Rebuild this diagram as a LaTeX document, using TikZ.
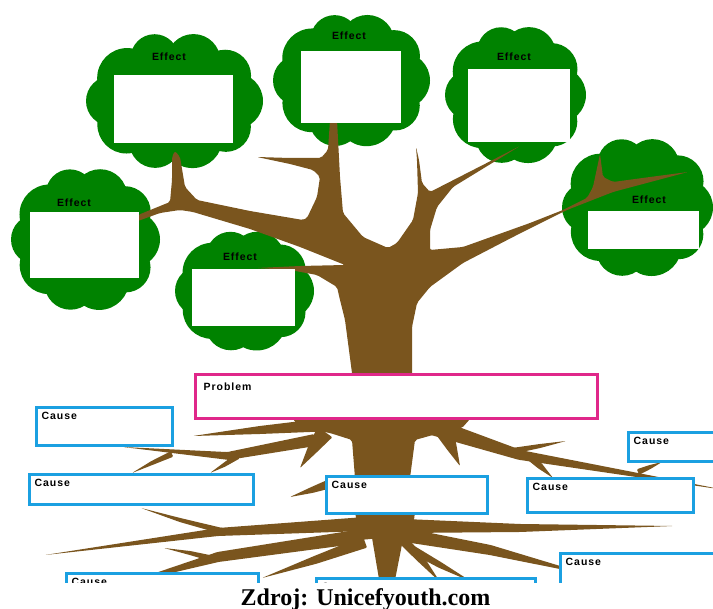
\documentclass[tikz,border=0pt]{standalone}
\usepackage{fontspec}
\setmainfont{Liberation Serif}
\newfontfamily\boxfont[LetterSpace=9]{Liberation Sans}
\usepackage{tikz}
\usetikzlibrary{positioning,calc}

\definecolor{leafgreen}{RGB}{0,130,0}
\definecolor{bark}{RGB}{122,85,30}
\definecolor{problempink}{RGB}{224,40,138}
\definecolor{causeblue}{RGB}{27,160,225}

\begin{document}
\begin{tikzpicture}[x=1pt, y=-1pt,
  leaf/.style={fill=leafgreen},
  wood/.style={fill=bark},
  effectbox/.style={fill=white, inner sep=0pt, outer sep=0pt},
  causebox/.style={draw=causeblue, line width=2.5pt, fill=white, inner sep=0pt, outer sep=0pt},
  problembox/.style={draw=problempink, line width=2.5pt, fill=white, inner sep=0pt, outer sep=0pt},
  boxlabel/.style={font=\boxfont\bfseries\fontsize{10.5}{12}\selectfont, inner sep=0pt}
]

\useasboundingbox (0,0) rectangle (713,609);
\clip (0,0) rectangle (713,609);

% Leaf clouds
\foreach \cx/\cy/\a/\b in {174.5/101/88.5/69, 351.5/80.5/78.5/67.5, 515.5/95/70.5/70,
                           85.5/239.5/74.5/72.5, 244.5/291/69.5/61, 637.5/207.5/75.5/70.5}{
  \fill[leaf] (\cx,\cy) ellipse ({\a-26} and {\b-26});
  \foreach \t/\r in {0/28,36/25,72/30,108/26,144/29,180/25,216/30,252/24,288/27,324/26}
    \fill[leaf] ({\cx+(\a-\r)*cos(\t)},{\cy+(\b-\r)*sin(\t)}) circle (\r);
}

% Trunk and branches
\fill[wood, rounded corners=2pt] (350,430) -- (352,373) -- (345,320) -- (340,300) -- (337,287)
  -- (317,275) -- (290,270) -- (257,268) -- (300,266) -- (345,265)
  -- (300,247) -- (250,229) -- (193,212) -- (180,210) -- (160,213) -- (138,221)
  -- (138,215) -- (170,202) -- (172,180) -- (172,157) -- (175,151) -- (180,157)
  -- (185,187) -- (197,200) -- (250,211) -- (303,220) -- (307,218)
  -- (317,197) -- (320,177) -- (313,170) -- (290,164) -- (257,157) -- (290,158) -- (321,158)
  -- (328,150) -- (330,120) -- (337,120) -- (340,177) -- (343,213) -- (363,237) -- (388,248)
  -- (397,243) -- (413,220) -- (418,193) -- (417,160) -- (416,147) -- (419,160) -- (422,183)
  -- (430,192) -- (520,146) -- (453,187) -- (437,207) -- (430,230) -- (430,250)
  -- (463,247) -- (530,223) -- (563,210) -- (587,198) -- (593,187) -- (600,154)
  -- (603,177) -- (613,182) -- (650,177) -- (688,172) -- (613,192) -- (567,210)
  -- (513,237) -- (463,263) -- (430,287) -- (417,303) -- (412,327) -- (412,373) -- (414,430) -- cycle;

% Roots under the problem
\fill[wood, rounded corners=2pt] (293,419) -- (470,419) -- (462,428) -- (440,433) -- (415,440)
  -- (410,478) -- (355,478) -- (352,440) -- (330,433) -- (300,428) -- cycle;
\fill[wood, rounded corners=2pt] (355,512) -- (415,512) -- (412,535) -- (360,540) -- cycle;
\fill[wood] (368,514) -- (408,514) -- (394,585) -- (380,585) -- cycle;

\foreach \bx/\by/\mx/\my/\tx/\ty/\wb/\wm in {
  335/424/260/430/193/436/7pt/4pt, 315/440/228/456/123/447/6pt/4pt,
  172/454/152/463/132/473/3pt/2pt, 238/456/224/465/210/473/3pt/2pt,
  325/432/312/450/300/468/9pt/5pt, 335/482/312/490/290/497/5pt/3pt,
  445/432/452/448/460/466/9pt/5pt, 425/424/520/455/725/490/9pt/5pt,
  512/451/540/446/566/441/3pt/2pt, 528/455/540/466/553/478/4pt/3pt,
  638/472/650/467/662/462/3pt/2pt,
  365/524/218/532/45/555/7pt/4pt, 222/531/180/520/141/508/3pt/2pt,
  362/536/218/557/120/585/7pt/5pt, 214/559/190/553/164/548/3pt/2pt,
  365/542/315/560/262/578/6pt/4pt, 405/526/520/528/673/526/7pt/4pt,
  405/535/490/550/590/575/7pt/5pt, 400/537/420/558/440/582/5pt/4pt,
  410/548/440/565/472/582/4pt/3pt}{
  \fill[wood, rounded corners=1pt] ($(\bx,\by)!\wb!90:(\mx,\my)$) -- ($(\mx,\my)!\wm!-90:(\bx,\by)$)
    -- (\tx,\ty) -- ($(\mx,\my)!\wm!90:(\bx,\by)$) -- ($(\bx,\by)!\wb!-90:(\mx,\my)$) -- cycle;
}

% Effect boxes
\node[effectbox, minimum width=119pt, minimum height=68pt] (effect1) at (173.5,109) {};
\node[effectbox, minimum width=100pt, minimum height=72pt] (effect2) at (351,87) {};
\node[effectbox, minimum width=102pt, minimum height=73pt] (effect3) at (519,105.5) {};
\node[effectbox, minimum width=109pt, minimum height=66pt] (effect4) at (84.5,245) {};
\node[effectbox, minimum width=103pt, minimum height=57pt] (effect5) at (243.5,297.5) {};
\node[effectbox, minimum width=111pt, minimum height=38pt] (effect6) at (643.5,230) {};

\node[boxlabel, anchor=base] (effect1 title) at (169,61) {Effect};
\node[boxlabel, anchor=base] (effect2 title) at (349,40) {Effect};
\node[boxlabel, anchor=base] (effect3 title) at (514,61) {Effect};
\node[boxlabel, anchor=base] (effect4 title) at (74,207) {Effect};
\node[boxlabel, anchor=base] (effect5 title) at (240,261) {Effect};
\node[boxlabel, anchor=base] (effect6 title) at (649,204) {Effect};

% Problem and causes
\node[problembox, minimum width=402pt, minimum height=44pt] (problem) at (396.5,396.5) {};
\node[boxlabel, below right=8pt and 8pt of problem.north west] (problem title) {Problem};

\node[causebox, minimum width=136pt, minimum height=38pt] (causeA) at (104.5,426.5) {};
\node[causebox, minimum width=224pt, minimum height=30pt] (causeB) at (141.5,489.5) {};
\node[causebox, minimum width=192pt, minimum height=45pt] (causeC) at (162.5,596) {};
\node[causebox, minimum width=161pt, minimum height=37pt] (causeD) at (407,495) {};
\node[causebox, minimum width=166pt, minimum height=34pt] (causeE) at (610.5,495.5) {};
\node[causebox, minimum width=110pt, minimum height=29pt] (causeF) at (683.5,447) {};
\node[causebox, minimum width=178pt, minimum height=45pt] (causeG) at (649.5,576) {};
\node[causebox, minimum width=219pt, minimum height=40pt] (causeH) at (426,598.5) {};

\foreach \c in {A,B,C,D,E,F,G,H}
  \node[boxlabel, below right=4pt and 5pt of cause\c.north west] (cause\c\space title) {Cause};

% Source line
\fill[white] (0,583) rectangle (713,609);
\node[font=\bfseries\fontsize{24}{28}\selectfont, anchor=base] (source) at (365.5,606) {Zdroj: Unicefyouth.com};

\end{tikzpicture}
\end{document}
